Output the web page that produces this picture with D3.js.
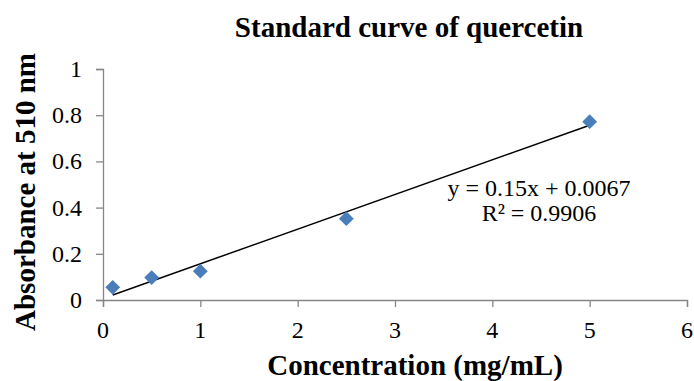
<!DOCTYPE html>
<html lang="en">
<head>
<meta charset="UTF-8">
<title>Standard curve of quercetin</title>
<script src="https://d3js.org/d3.v7.min.js"></script>
<style>
  body { margin: 0; background: #fff; }
  text { font-family: "Liberation Serif", "Times New Roman", serif; }
</style>
</head>
<body>
<div id="chart"></div>
<script>
// data
const concentration = [0.1, 0.5, 1, 2.5, 5];
const absorbance = [0.055, 0.097, 0.125, 0.352, 0.772];
const xTicks = [0, 1, 2, 3, 4, 5, 6];
const yTicks = [0, 0.2, 0.4, 0.6, 0.8, 1];
const slope = 0.15, intercept = 0.0067;
const equationLines = ["y = 0.15x + 0.0067", "R² = 0.9906"];

const W = 694, H = 381;
const margin = {top: 69, right: 7, bottom: 81, left: 103};
const width = W - margin.left - margin.right,
      height = H - margin.top - margin.bottom;

const svg = d3.select("#chart").append("svg")
    .attr("width", W).attr("height", H);

const g = svg.append("g")
    .attr("transform", `translate(${margin.left},${margin.top})`);

const x = d3.scaleLinear().domain([0, 6]).range([0, width]);
const y = d3.scaleLinear().domain([0, 1]).range([height, 0]);

// axes: lines from d3.axis, labels drawn separately so the font takes
const xAxis = g.append("g")
    .attr("transform", `translate(0,${height})`)
    .call(d3.axisBottom(x).tickValues(xTicks).tickFormat("").tickSizeOuter(0).tickSize(7));

const yAxis = g.append("g")
    .call(d3.axisLeft(y).tickValues(yTicks).tickFormat("").tickSizeOuter(0).tickSize(7));

[xAxis, yAxis].forEach(a => {
  a.select(".domain").attr("stroke", "#868686").attr("stroke-width", 1.3);
  a.selectAll(".tick line").attr("stroke", "#868686").attr("stroke-width", 1.3);
});

g.selectAll(".xlab")
  .data(xTicks)
  .join("text")
    .attr("class", "xlab")
    .attr("x", d => x(d))
    .attr("y", height + 38)
    .attr("text-anchor", "middle")
    .style("font-size", "24px")
    .text(d => d);

g.selectAll(".ylab")
  .data(yTicks)
  .join("text")
    .attr("class", "ylab")
    .attr("x", -21)
    .attr("y", d => y(d) + 8)
    .attr("text-anchor", "end")
    .style("font-size", "24px")
    .text(d => d === 0 || d === 1 ? d : d3.format(".1f")(d));

// trendline
const xs = d3.extent(concentration);
g.append("line")
    .attr("x1", x(xs[0])).attr("y1", y(slope * xs[0] + intercept))
    .attr("x2", x(xs[1])).attr("y2", y(slope * xs[1] + intercept))
    .attr("stroke", "#000").attr("stroke-width", 1.5);

// diamond markers
const diamond = d3.symbol().type(d3.symbolSquare).size(110);
g.selectAll(".pt")
  .data(concentration.map((c, i) => [c, absorbance[i]]))
  .join("path")
    .attr("class", "pt")
    .attr("d", diamond)
    .attr("transform", d => `translate(${x(d[0])},${y(d[1])}) rotate(45)`)
    .attr("fill", "#4a7ebb");

// equation
const eqX = 539;
const eq = svg.append("text")
    .attr("x", eqX).attr("y", 196)
    .attr("text-anchor", "middle")
    .style("font-size", "24px");
equationLines.forEach((t, i) => {
  eq.append("tspan").attr("x", eqX).attr("dy", i === 0 ? 0 : 25).text(t);
});

// title
svg.append("text")
    .attr("x", 409).attr("y", 37)
    .attr("text-anchor", "middle")
    .style("font-size", "29px").style("font-weight", "bold")
    .text("Standard curve of quercetin");

// axis titles
svg.append("text")
    .attr("x", 415).attr("y", 375)
    .attr("text-anchor", "middle")
    .style("font-size", "29px").style("font-weight", "bold")
    .text("Concentration (mg/mL)");

svg.append("text")
    .attr("transform", "translate(35,192) rotate(-90)")
    .attr("text-anchor", "middle")
    .style("font-size", "29px").style("font-weight", "bold")
    .text("Absorbance at 510 nm");
</script>
</body>
</html>
